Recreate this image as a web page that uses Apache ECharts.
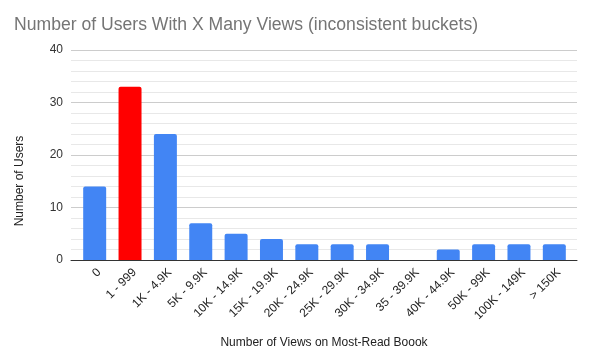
<!DOCTYPE html>
<html>
<head>
<meta charset="utf-8">
<script src="https://cdn.jsdelivr.net/npm/echarts@6/dist/echarts.min.js"></script>
<style>html,body{margin:0;padding:0;background:#fff;}#c{width:593px;height:359px;}</style>
</head>
<body>
<div id="c"></div>
<script>
var categories = ['0', '1 - 999', '1K - 4.9K', '5K - 9.9K', '10K - 14.9K', '15K - 19.9K', '20K - 24.9K', '25K - 29.9K', '30K - 34.9K', '35 - 39.9K', '40K - 44.9K', '50K - 99K', '100K - 149K', '> 150K'];
var users = [14, 33, 24, 7, 5, 4, 3, 3, 3, 0, 2, 3, 3, 3];
var highlightIndex = 1;
var yTicks = [0, 10, 20, 30, 40];

var chart = echarts.init(document.getElementById('c'), null, {renderer: 'canvas'});
var font = 'Arial, "Liberation Sans", sans-serif';
var yMin = yTicks[0], yMax = yTicks[yTicks.length - 1];
chart.setOption({
  animation: false,
  title: {
    text: 'Number of Users With X Many Views (inconsistent buckets)',
    left: 9, top: 11,
    textStyle: {fontFamily: font, fontSize: 17.6, fontWeight: 'normal', color: '#757575'}
  },
  grid: [
    {left: 71, right: 16, top: 50, bottom: 99},
    {left: 77, right: 21, top: 50, bottom: 99},
    {left: 81.5, right: 16.5, top: 50, bottom: 99}
  ],
  xAxis: [{
    gridIndex: 0,
    type: 'category',
    data: [''],
    name: 'Number of Views on Most-Read Boook',
    nameLocation: 'middle',
    nameGap: 77,
    nameTextStyle: {fontFamily: font, fontSize: 12, color: '#222'},
    axisLine: {lineStyle: {color: '#333', width: 1}},
    axisTick: {show: false},
    axisLabel: {show: false}
  }, {
    gridIndex: 1,
    type: 'category',
    data: categories,
    axisLine: {show: false},
    axisTick: {show: false},
    axisLabel: {show: false}
  }, {
    gridIndex: 2,
    type: 'category',
    data: categories,
    axisLine: {show: false},
    axisTick: {show: false},
    axisLabel: {rotate: 45, interval: 0, fontFamily: font, fontSize: 12, color: '#222', margin: 10.5}
  }],
  yAxis: [{
    gridIndex: 0,
    type: 'value',
    min: yMin, max: yMax, interval: 10,
    name: 'Number of Users',
    nameLocation: 'middle',
    nameGap: 45,
    nameTextStyle: {fontFamily: font, fontSize: 12, color: '#222', padding: [0, 52, 0, 0]},
    axisLine: {show: false},
    axisTick: {show: false},
    axisLabel: {fontFamily: font, fontSize: 12, color: '#333', margin: 8},
    splitLine: {lineStyle: {color: '#cccccc', width: 1}},
    minorTick: {show: false, splitNumber: 5},
    minorSplitLine: {show: true, lineStyle: {color: '#e8e8e8', width: 1}}
  }, {
    gridIndex: 1,
    type: 'value',
    min: yMin, max: yMax, interval: 10,
    show: false,
    splitLine: {show: false}
  }, {
    gridIndex: 2,
    type: 'value',
    min: yMin, max: yMax, interval: 10,
    show: false,
    splitLine: {show: false}
  }],
  series: [{
    type: 'bar',
    xAxisIndex: 1,
    yAxisIndex: 1,
    barWidth: '65%',
    data: users.map(function (v, i) {
      return {value: v, itemStyle: {color: i === highlightIndex ? '#ff0000' : '#4285f4'}};
    }),
    itemStyle: {borderRadius: [2, 2, 0, 0]}
  }]
});
</script>
</body>
</html>
